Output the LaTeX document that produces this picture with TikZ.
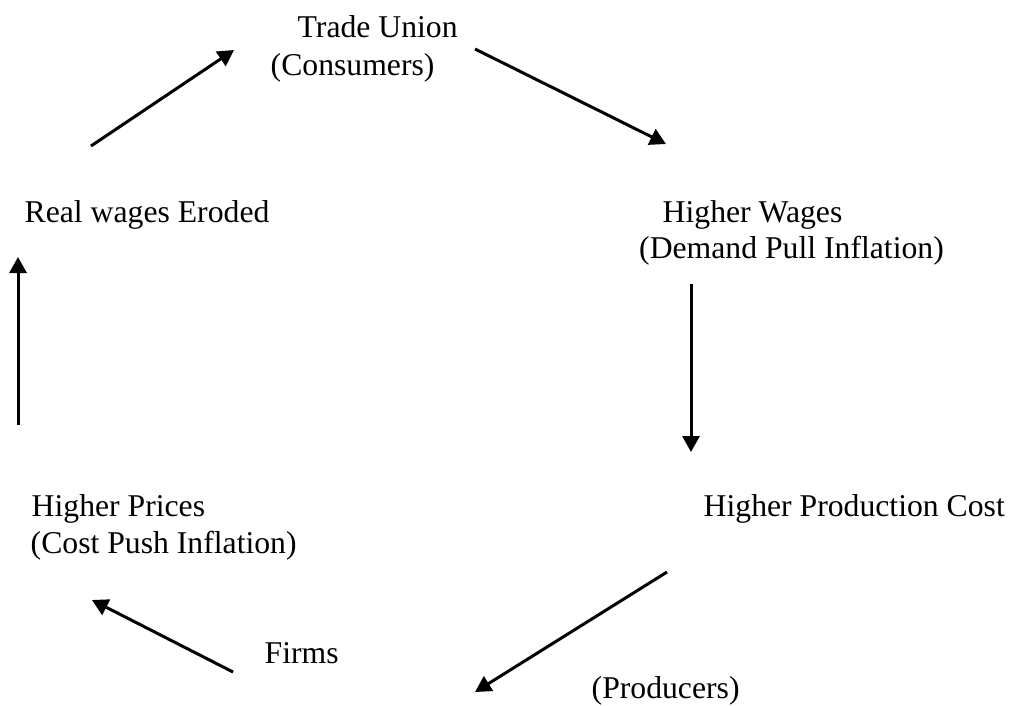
\documentclass[tikz,border=0pt]{standalone}
\usepackage{fontspec}
\setmainfont{Liberation Serif}
\usetikzlibrary{arrows.meta}
\begin{document}
\begin{tikzpicture}[x=1pt,y=-1pt,
  lbl/.style={anchor=base west,inner sep=0pt,font=\fontsize{31.7}{37}\selectfont},
  flow/.style={line width=3pt,-{Triangle[length=16pt,width=17pt]}}]
\useasboundingbox (0,0) rectangle (1011,705);

% labels of the cycle
\node[lbl] (tu)   at (297.5,37)  {Trade Union};
\node[lbl] (cons) at (270.5,75)  {(Consumers)};
\node[lbl] (hw)   at (662.5,222) {Higher Wages};
\node[lbl] (dpi)  at (639,258)   {(Demand Pull Inflation)};
\node[lbl] (hpc)  at (703.5,516) {Higher Production Cost};
\node[lbl] (prod) at (591.5,698) {(Producers)};
\node[lbl] (firm) at (264.5,663) {Firms};
\node[lbl] (hp)   at (31.5,516)  {Higher Prices};
\node[lbl] (cpi)  at (30.5,553)  {(Cost Push Inflation)};
\node[lbl] (rwe)  at (24.5,222)  {Real wages Eroded};

% arrow end points
\coordinate (a1s) at (91,146);  \coordinate (a1e) at (234,50);
\coordinate (a2s) at (475,49);  \coordinate (a2e) at (666,144);
\coordinate (a3s) at (691,284); \coordinate (a3e) at (691,452);
\coordinate (a4s) at (667,572); \coordinate (a4e) at (475,692);
\coordinate (a5s) at (233,672); \coordinate (a5e) at (92,600);
\coordinate (a6s) at (18,425);  \coordinate (a6e) at (18,257);

\draw[flow] (a1s) -- (a1e);
\draw[flow] (a2s) -- (a2e);
\draw[flow] (a3s) -- (a3e);
\draw[flow] (a4s) -- (a4e);
\draw[flow] (a5s) -- (a5e);
\draw[flow] (a6s) -- (a6e);
\end{tikzpicture}
\end{document}
